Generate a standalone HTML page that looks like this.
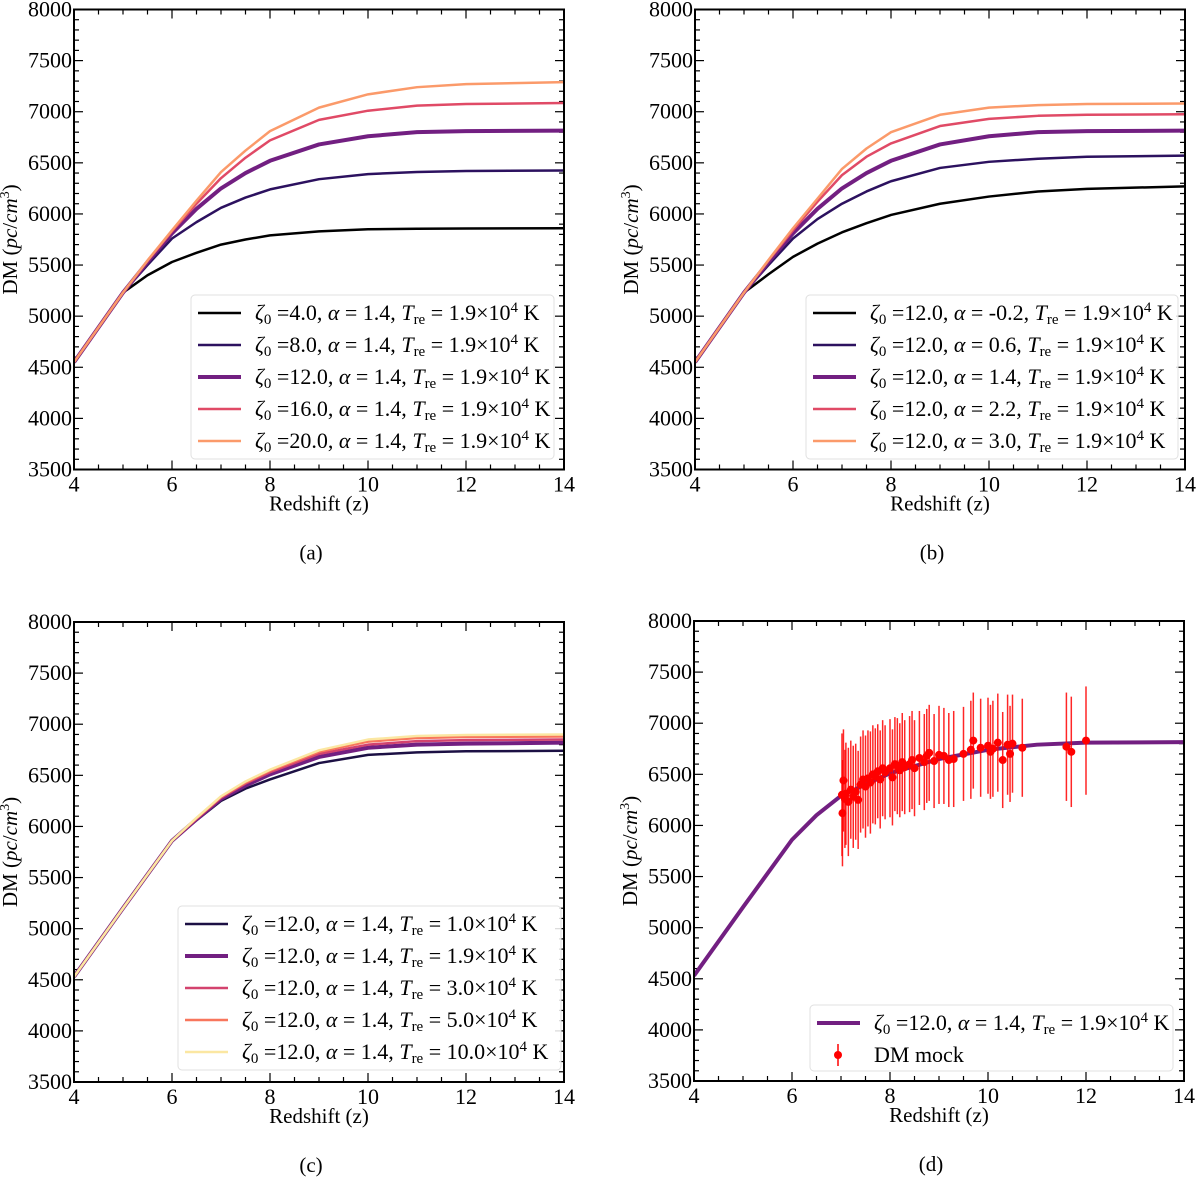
<!DOCTYPE html>
<html><head><meta charset="utf-8"><style>
body{margin:0;background:#fff}
svg{display:block;font-family:"Liberation Serif","DejaVu Serif",serif}
</style></head><body>
<svg id="fig" width="1200" height="1180" viewBox="0 0 1200 1180" xmlns="http://www.w3.org/2000/svg"></svg>
<script>
// ---- data ----
const zA=[4,5,5.5,6,6.5,7,7.5,8,9,10,11,12,14];
const aZeta4 =[4550,5230,5400,5530,5620,5700,5750,5790,5830,5850,5855,5858,5860];
const aZeta8 =[4550,5230,5500,5760,5920,6060,6160,6240,6340,6390,6410,6420,6425];
const aZeta12=[4550,5230,5530,5810,6050,6250,6400,6520,6680,6760,6800,6810,6815];
const aZeta16=[4550,5230,5540,5830,6100,6350,6550,6720,6920,7010,7060,7075,7085];
const aZeta20=[4550,5230,5545,5840,6130,6410,6620,6810,7040,7170,7240,7270,7290];
const bAlphaM02=[4550,5230,5410,5580,5710,5820,5910,5990,6100,6170,6220,6245,6270];
const bAlpha06 =[4550,5230,5500,5760,5950,6100,6220,6320,6450,6510,6540,6560,6570];
const bAlpha14 =[4550,5230,5530,5810,6050,6250,6400,6520,6680,6760,6800,6810,6815];
const bAlpha22 =[4550,5230,5545,5840,6120,6380,6560,6690,6860,6930,6960,6970,6975];
const bAlpha30 =[4550,5230,5550,5860,6150,6440,6640,6800,6970,7040,7065,7075,7080];
const zC=[4,5,6,6.5,7,7.5,8,9,10,11,12,14];
const cT1 =[4530,5200,5860,6060,6250,6370,6460,6620,6700,6725,6735,6740];
const cT19=[4530,5200,5860,6070,6270,6400,6510,6680,6770,6800,6810,6820];
const cT3 =[4530,5200,5860,6075,6280,6420,6530,6710,6800,6835,6845,6850];
const cT5 =[4530,5200,5860,6080,6290,6430,6545,6730,6830,6865,6875,6880];
const cT10=[4530,5200,5860,6085,6295,6440,6555,6745,6850,6885,6895,6900];
const zD=[4,5,6,6.5,7,8,9,10,11,12,14];
const dModel=[4530,5200,5860,6100,6290,6510,6650,6740,6790,6810,6815];
const mockZ=[7.02,7.03,7.05,7.08,7.1,7.15,7.2,7.25,7.3,7.35,7.4,7.45,7.5,7.55,7.6,7.65,7.7,7.75,7.8,7.85,7.9,8.0,8.05,8.1,8.15,8.2,8.25,8.3,8.4,8.45,8.5,8.6,8.7,8.75,8.8,8.9,9.0,9.1,9.2,9.3,9.5,9.65,9.7,9.85,10.0,10.05,10.1,10.2,10.3,10.4,10.45,10.5,10.7,11.6,11.7,12.0];
const mockDM=[6300,6120,6440,6260,6310,6230,6350,6280,6330,6250,6400,6450,6380,6460,6420,6500,6480,6530,6450,6560,6520,6560,6470,6600,6580,6540,6620,6570,6600,6640,6560,6660,6620,6680,6710,6630,6690,6680,6640,6650,6700,6740,6830,6760,6780,6720,6750,6810,6640,6790,6700,6800,6760,6770,6720,6830];
const mockErr=[600,520,500,480,500,530,480,500,470,480,470,480,500,470,500,480,470,460,480,470,460,480,470,460,470,460,480,460,470,480,470,460,470,460,470,460,480,470,460,470,460,480,470,480,470,460,470,480,470,490,470,480,480,530,540,530];
const xTicks=[4,6,8,10,12,14];
const yTicks=[3500,4000,4500,5000,5500,6000,6500,7000,7500,8000];
// ---- drawing ----
const svg=document.getElementById('fig');const NS='http://www.w3.org/2000/svg';
function mk(t,a,p){const e=document.createElementNS(NS,t);for(const k in a)e.setAttribute(k,a[k]);(p||svg).appendChild(e);return e;}
function panel(id,L,T,label,series,legend,legBox){
  const W=490,H=460;
  const g=mk('g',{});
  
  
  const X=z=>L+(z-4)/10*W, Y=v=>T+(8000-v)/4500*H;
  for(let z=4;z<=14.001;z+=0.5){const maj=Math.abs(z-Math.round(z/2)*2)<1e-6;const len=maj?9:5;
    mk('line',{x1:X(z),x2:X(z),y1:T+H,y2:T+H-len,stroke:'#000','stroke-width':1.2},g);
    mk('line',{x1:X(z),x2:X(z),y1:T,y2:T+len,stroke:'#000','stroke-width':1.2},g);}
  for(let v=3500;v<=8000;v+=100){const maj=v%500==0;const len=maj?9:5;
    mk('line',{x1:L,x2:L+len,y1:Y(v),y2:Y(v),stroke:'#000','stroke-width':1.2},g);
    mk('line',{x1:L+W,x2:L+W-len,y1:Y(v),y2:Y(v),stroke:'#000','stroke-width':1.2},g);}
  xTicks.forEach(z=>{const t=mk('text',{x:X(z),y:T+H+22,'text-anchor':'middle','font-size':22},g);t.textContent=z;});
  yTicks.forEach(v=>{const t=mk('text',{x:L-2,y:Y(v)+7,'text-anchor':'end','font-size':22},g);t.textContent=v;});
  const xl=mk('text',{x:L+W/2,y:T+H+41,'text-anchor':'middle','font-size':21},g);xl.textContent='Redshift (z)';
  
  const yl=mk('text',{x:0,y:0,'text-anchor':'middle','font-size':21,transform:`translate(${L-57},${T+H/2}) rotate(-90)`},g);
  yl.innerHTML='DM (<tspan font-style="italic">pc</tspan>/<tspan font-style="italic">cm</tspan><tspan dy="-8" font-size="14">3</tspan><tspan dy="8">)</tspan>';
  
  const cap=mk('text',{x:L+W/2-8,y:T+H+90,'text-anchor':'middle','font-size':21},g);cap.textContent='('+label+')';
  
  const clip=mk('clipPath',{id:'c'+id},g);mk('rect',{x:L,y:T,width:W,height:H},clip);
  const pg=mk('g',{'clip-path':`url(#c${id})`},g);
  series.forEach(s=>{
    if(s.mock){
      s.z.forEach((z,i)=>{
        const b=mk('line',{x1:X(z),x2:X(z),y1:Y(s.v[i]-s.e[i]),y2:Y(s.v[i]+s.e[i]),stroke:'#ff0000','stroke-width':1.5,'stroke-opacity':0.85},pg);
        
        const c=mk('circle',{cx:X(z),cy:Y(s.v[i]),r:4,fill:'#ff0000'},pg);
        
      });
    } else {
      const p=mk('polyline',{points:s.z.map((z,i)=>X(z)+','+Y(s.v[i])).join(' '),fill:'none',stroke:s.c,'stroke-width':s.w,'stroke-linejoin':'round'},pg);
      
    }
  });
  mk('rect',{x:L,y:T,width:W,height:H,fill:'none',stroke:'#000','stroke-width':2},g);
  const lg=mk('g',{},g);
  
  mk('rect',{x:legBox[0],y:legBox[1],width:legBox[2],height:legBox[3],rx:4,fill:'#fff','fill-opacity':0.85,stroke:'#e0e0e0'},lg);
  legend.forEach((it,i)=>{
    const y=legBox[1]+18+i*32;const lx=legBox[0]+7;
    if(it.mock){mk('line',{x1:lx+21,x2:lx+21,y1:y-11,y2:y+11,stroke:'#f00','stroke-width':1.5},lg);mk('circle',{cx:lx+21,cy:y,r:4,fill:'#f00'},lg);}
    else mk('line',{x1:lx,x2:lx+43,y1:y,y2:y,stroke:it.c,'stroke-width':it.w},lg);
    const t=mk('text',{x:lx+57,y:y+7,'font-size':22},lg);t.innerHTML=it.t;
    
  });
}
function lab(z,a,T){return `<tspan font-style="italic">ζ</tspan><tspan dy="4" font-size="15">0</tspan><tspan dy="-4"> =${z}, </tspan><tspan font-style="italic">α</tspan> = ${a}, <tspan font-style="italic">T</tspan><tspan dy="4" font-size="15">re</tspan><tspan dy="-4"> = ${T}×10</tspan><tspan dy="-8" font-size="15">4</tspan><tspan dy="8"> K</tspan>`;}
const C=['#000000','#2c115f','#721f81','#e04a66','#fb9a6a'];
const W5=[2.5,2.5,4,2.5,2.5];
const WC=[2.5,4,2.5,2.5,2.5];
const aS=[aZeta4,aZeta8,aZeta12,aZeta16,aZeta20];
const aL=['4.0','8.0','12.0','16.0','20.0'];
panel('a',74,9.5,'a',aS.map((v,i)=>({z:zA,v,c:C[i],w:W5[i]})),aL.map((z,i)=>({c:C[i],w:W5[i],t:lab(z,'1.4','1.9')})),[191,295,363,164]);
const bS=[bAlphaM02,bAlpha06,bAlpha14,bAlpha22,bAlpha30];
const bL=['-0.2','0.6','1.4','2.2','3.0'];
panel('b',695,9.5,'b',bS.map((v,i)=>({z:zA,v,c:C[i],w:W5[i]})),bL.map((a,i)=>({c:C[i],w:W5[i],t:lab('12.0',a,'1.9')})),[806,295,372,164]);
const CC=['#1c1044','#721f81','#d3436e','#f8765c','#fbe7a2'];
const cS=[cT1,cT19,cT3,cT5,cT10];
const cL=['1.0','1.9','3.0','5.0','10.0'];
panel('c',74,622,'c',cS.map((v,i)=>({z:zC,v,c:CC[i],w:WC[i]})),cL.map((T,i)=>({c:CC[i],w:WC[i],t:lab('12.0','1.4',T)})),[178,906,383,164]);
panel('d',694,621,'d',[{z:zD,v:dModel,c:'#721f81',w:4},{mock:true,z:mockZ,v:mockDM,e:mockErr}],[{c:'#721f81',w:4,t:lab('12.0','1.4','1.9')},{mock:true,t:'DM mock'}],[810,1005,363,66]);
</script>
</body></html>
